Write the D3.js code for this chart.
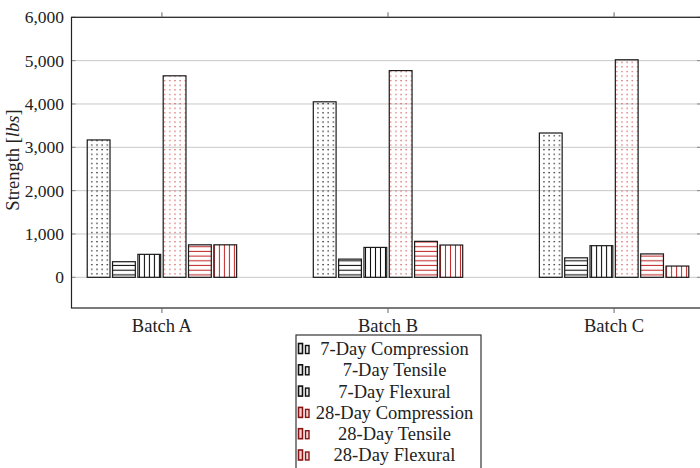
<!DOCTYPE html>
<html>
<head>
<meta charset="utf-8">
<script src="https://cdn.jsdelivr.net/npm/d3@7/dist/d3.min.js"></script>
<style>
  html, body { margin: 0; padding: 0; background: #fff; }
  svg text { font-family: "Liberation Serif", serif; }
</style>
</head>
<body>
<svg id="chart" width="700" height="468"></svg>
<script>
// Concrete strength test results per batch
const categories = ["Batch A", "Batch B", "Batch C"];
const seriesNames = ["7-Day Compression", "7-Day Tensile", "7-Day Flexural",
                     "28-Day Compression", "28-Day Tensile", "28-Day Flexural"];
const compression7 = [3170, 4050, 3330];
const tensile7 = [360, 420, 450];
const flexural7 = [530, 690, 730];
const compression28 = [4650, 4770, 5020];
const tensile28 = [750, 830, 540];
const flexural28 = [750, 745, 260];
const yTicks = [0, 1000, 2000, 3000, 4000, 5000, 6000];

const seriesValues = [compression7, tensile7, flexural7, compression28, tensile28, flexural28];
const seriesPattern = ["dotsK", "hlinesK", "vlinesK", "dotsR", "hlinesR", "vlinesR"];

const svg = d3.select("#chart");
const plotLeft = 71.5, plotTop = 17.3, plotBottom = 308, plotRight = 701;
const FONT = "Liberation Serif";

const y = d3.scaleLinear().domain([-708, 6000]).range([plotBottom, plotTop]);
const x = d3.scalePoint().domain(categories).range([plotLeft, 704.5]).padding(0.4);
const inner = d3.scaleBand().domain(seriesNames).range([-74.7, 74.7]).paddingInner(0.1);

// Fill patterns
const defs = svg.append("defs");
function dots(id, color, r) {
  const p = defs.append("pattern").attr("id", id).attr("patternUnits", "userSpaceOnUse")
    .attr("width", 5.2).attr("height", 4.6);
  p.append("rect").attr("x", 2).attr("y", 1.8).attr("width", r).attr("height", r).attr("fill", color);
}
function hlines(id, color) {
  const p = defs.append("pattern").attr("id", id).attr("patternUnits", "userSpaceOnUse")
    .attr("width", 10).attr("height", 4.7);
  p.append("line").attr("x1", 0).attr("x2", 10).attr("y1", 2.3).attr("y2", 2.3)
    .attr("stroke", color).attr("stroke-width", 1.1);
}
function vlines(id, color) {
  const p = defs.append("pattern").attr("id", id).attr("patternUnits", "userSpaceOnUse")
    .attr("width", 5).attr("height", 10);
  p.append("line").attr("y1", 0).attr("y2", 10).attr("x1", 2.5).attr("x2", 2.5)
    .attr("stroke", color).attr("stroke-width", 1.1);
}
dots("dotsK", "#222", 1.3);
dots("dotsR", "#d86464", 1.3);
hlines("hlinesK", "#111");
hlines("hlinesR", "#c42f2f");
vlines("vlinesK", "#111");
vlines("vlinesR", "#c42f2f");

// Grid lines
svg.append("g").selectAll("line").data(yTicks).join("line")
  .attr("x1", plotLeft).attr("x2", plotRight)
  .attr("y1", d => y(d)).attr("y2", d => y(d))
  .attr("stroke", "#c8c8c8").attr("stroke-width", 1);

// Y tick marks (inward, both sides)
svg.append("g").selectAll("line").data(yTicks).join("line")
  .attr("x1", plotLeft).attr("x2", plotLeft + 4)
  .attr("y1", d => y(d)).attr("y2", d => y(d))
  .attr("stroke", "#888").attr("stroke-width", 1);
svg.append("g").selectAll("line").data(yTicks).join("line")
  .attr("x1", plotRight - 4).attr("x2", plotRight)
  .attr("y1", d => y(d)).attr("y2", d => y(d))
  .attr("stroke", "#888").attr("stroke-width", 1);

// Y tick labels
const fmt = d3.format(",");
svg.append("g").selectAll("text").data(yTicks).join("text")
  .attr("font-family", FONT)
  .attr("x", 64).attr("y", d => y(d)).attr("dy", "0.35em")
  .attr("text-anchor", "end").attr("font-size", 17.5).attr("fill", "#222")
  .text(d => fmt(d));

// Bars
const groups = svg.append("g").selectAll("g").data(categories).join("g")
  .attr("transform", d => `translate(${x(d)},0)`);
groups.selectAll("rect")
  .data((c, ci) => seriesNames.map((s, si) => ({ s, si, v: seriesValues[si][ci] })))
  .join("rect")
  .attr("x", d => inner(d.s))
  .attr("width", inner.bandwidth())
  .attr("y", d => y(d.v))
  .attr("height", d => y(0) - y(d.v))
  .attr("fill", d => `url(#${seriesPattern[d.si]})`)
  .attr("stroke", "#1a1a1a").attr("stroke-width", 1.2);

// Frame
svg.append("rect").attr("x", plotLeft).attr("y", plotTop)
  .attr("width", plotRight - plotLeft).attr("height", plotBottom - plotTop)
  .attr("fill", "none").attr("stroke", "#222").attr("stroke-width", 1.2);

// X tick marks (outward, top and bottom)
svg.append("g").selectAll("line").data(categories).join("line")
  .attr("x1", d => x(d)).attr("x2", d => x(d))
  .attr("y1", plotBottom).attr("y2", plotBottom + 5)
  .attr("stroke", "#666").attr("stroke-width", 1);
svg.append("g").selectAll("line").data(categories).join("line")
  .attr("x1", d => x(d)).attr("x2", d => x(d))
  .attr("y1", plotTop - 5).attr("y2", plotTop)
  .attr("stroke", "#666").attr("stroke-width", 1);

// X labels
svg.append("g").selectAll("text").data(categories).join("text")
  .attr("font-family", FONT)
  .attr("x", d => x(d)).attr("y", 331.5)
  .attr("text-anchor", "middle").attr("font-size", 18.5).attr("fill", "#222")
  .text(d => d);

// Y axis title
const yt = svg.append("text")
  .attr("font-family", FONT)
  .attr("transform", "translate(19,160) rotate(-90)")
  .attr("text-anchor", "middle").attr("font-size", 18.5).attr("fill", "#222");
yt.append("tspan").text("Strength [");
yt.append("tspan").attr("font-style", "italic").text("lbs");
yt.append("tspan").text("]");

// Legend
const lgX = 296, lgY = 335, lgW = 185, rowH = 21.3, row0 = 348.5;
const legend = svg.append("g");
legend.append("rect").attr("x", lgX).attr("y", lgY).attr("width", lgW).attr("height", 140)
  .attr("fill", "#fff").attr("stroke", "#222").attr("stroke-width", 1.1);
const items = legend.selectAll("g.item").data(seriesNames).join("g").attr("class", "item")
  .attr("transform", (d, i) => `translate(0,${row0 + i * rowH})`);
items.append("rect").attr("x", lgX + 2.5).attr("y", -5).attr("width", 4).attr("height", 10)
  .attr("fill", (d, i) => i < 3 ? "#eee" : "#f4d4d4")
  .attr("stroke", (d, i) => i < 3 ? "#111" : "#8a1414").attr("stroke-width", 1.6);
items.append("rect").attr("x", lgX + 9.5).attr("y", -3).attr("width", 3.5).attr("height", 8)
  .attr("fill", (d, i) => i < 3 ? "#eee" : "#f4d4d4")
  .attr("stroke", (d, i) => i < 3 ? "#111" : "#8a1414").attr("stroke-width", 1.4);
items.append("text").attr("font-family", FONT)
  .attr("x", 394.5).attr("dy", "0.35em")
  .attr("text-anchor", "middle").attr("font-size", 18.5).attr("fill", "#222")
  .text(d => d);
</script>
</body>
</html>
